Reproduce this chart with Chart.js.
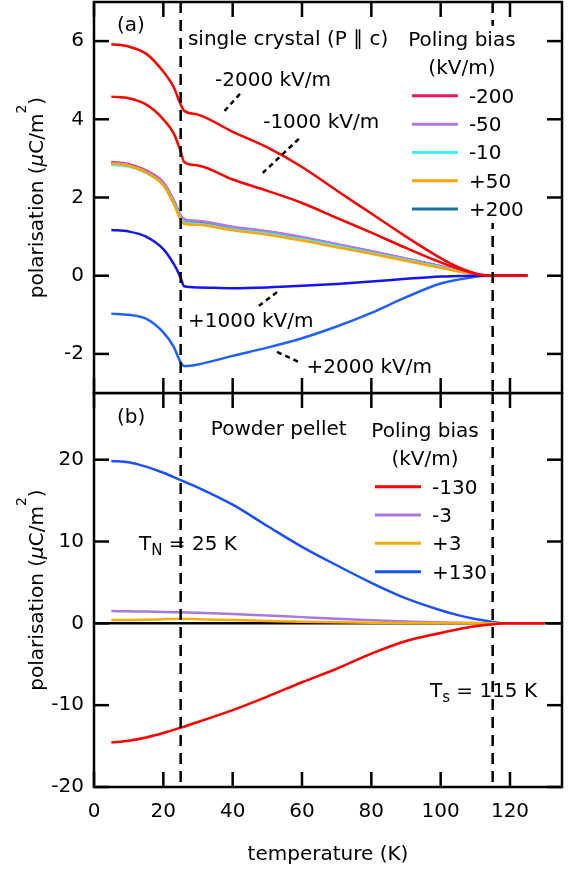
<!DOCTYPE html>
<html>
<head>
<meta charset="utf-8">
<title>Polarisation vs temperature</title>
<script src="https://cdn.jsdelivr.net/npm/chart.js@4.4.1/dist/chart.umd.min.js"></script>
<style>
  html, body { margin: 0; padding: 0; background: #fff; }
  #figure { position: relative; width: 572px; height: 870px; }
  #figure canvas { position: absolute; left: 0; }
  #panelA { top: 0; }
  #panelB { top: 392px; }
</style>
</head>
<body>
<div id="figure">
  <canvas id="panelA" width="572" height="395"></canvas>
  <canvas id="panelB" width="572" height="478"></canvas>
</div>
<script>
// temperatures (K)
const tempsA = [5, 10, 15, 20, 23, 25, 26, 30, 40, 50, 60, 70, 80, 90, 100, 105, 110, 112, 115, 120, 125];
const tempsB = [5, 10, 15, 20, 25, 30, 40, 50, 60, 70, 80, 90, 100, 105, 110, 115, 118, 120, 125, 130];

// (a) single crystal, polarisation in uC/m^2 for each poling bias (kV/m)
const crystalM2000 = [5.92, 5.86, 5.68, 5.22, 4.82, 4.38, 4.22, 4.12, 3.68, 3.28, 2.78, 2.18, 1.59, 1.00, 0.45, 0.22, 0.06, 0.02, 0, 0, 0];
const crystalM1000 = [4.58, 4.54, 4.38, 4.00, 3.64, 3.18, 2.91, 2.82, 2.46, 2.17, 1.86, 1.48, 1.10, 0.71, 0.34, 0.18, 0.05, 0.02, 0, 0, 0];
const crystalM200 = [2.91, 2.85, 2.69, 2.38, 1.93, 1.54, 1.44, 1.39, 1.23, 1.13, 0.98, 0.80, 0.62, 0.43, 0.24, 0.13, 0.04, 0.01, 0, 0, 0];
const crystalM50 = [2.89, 2.83, 2.67, 2.36, 1.91, 1.52, 1.43, 1.40, 1.25, 1.14, 0.99, 0.81, 0.63, 0.44, 0.24, 0.13, 0.04, 0.01, 0, 0, 0];
const crystalM10 = [2.84, 2.79, 2.63, 2.32, 1.87, 1.47, 1.37, 1.33, 1.19, 1.08, 0.93, 0.76, 0.58, 0.40, 0.22, 0.12, 0.04, 0.01, 0, 0, 0];
const crystalP50 = [2.87, 2.81, 2.64, 2.31, 1.84, 1.43, 1.33, 1.30, 1.16, 1.05, 0.90, 0.73, 0.56, 0.38, 0.20, 0.11, 0.03, 0.01, 0, 0, 0];
const crystalP200 = [2.88, 2.82, 2.66, 2.35, 1.90, 1.50, 1.40, 1.36, 1.21, 1.11, 0.96, 0.79, 0.61, 0.42, 0.23, 0.12, 0.04, 0.01, 0, 0, 0];
const crystalP1000 = [1.17, 1.13, 1.00, 0.68, 0.30, -0.05, -0.27, -0.30, -0.32, -0.30, -0.26, -0.21, -0.15, -0.08, -0.02, -0.01, 0, 0, 0, 0, 0];
const crystalP2000 = [-0.97, -1.00, -1.10, -1.45, -1.82, -2.22, -2.31, -2.27, -2.05, -1.84, -1.60, -1.30, -0.95, -0.55, -0.20, -0.10, -0.03, -0.01, 0, 0, 0];

// (b) powder pellet
const pelletM130 = [-14.57, -14.35, -13.95, -13.4, -12.75, -12.05, -10.6, -8.95, -7.2, -5.55, -3.7, -2.15, -1.17, -0.72, -0.35, -0.1, 0, 0, 0, 0];
const pelletM3 = [1.5, 1.47, 1.44, 1.4, 1.35, 1.3, 1.15, 0.96, 0.76, 0.56, 0.39, 0.23, 0.11, 0.06, 0.03, 0.01, 0, 0, 0, 0];
const pelletP3 = [0.4, 0.42, 0.45, 0.5, 0.55, 0.5, 0.4, 0.3, 0.2, 0.13, 0.08, 0.05, 0.03, 0.02, 0.01, 0, 0, 0, 0, 0];
const pelletP130 = [19.85, 19.7, 19.15, 18.4, 17.5, 16.6, 14.5, 11.9, 9.35, 7.1, 4.95, 3.05, 1.6, 1.0, 0.52, 0.18, 0.02, 0, 0, 0];

// axes
const xTicks = [0, 20, 40, 60, 80, 100, 120];
const yTicksA = [-2, 0, 2, 4, 6];
const yTicksB = [-20, -10, 0, 10, 20];
const transitions = [25, 115]; // T_N and T_s

const FONT = '"DejaVu Sans", sans-serif';
const TICK = 15;

function line(label, temps, vals, color) {
  return {
    label,
    data: temps.map((t, i) => ({ x: t, y: vals[i] })),
    borderColor: color,
    backgroundColor: color,
    borderWidth: 2.5,
    pointRadius: 0,
    cubicInterpolationMode: 'monotone',
    fill: false
  };
}

const datasetsA = [
  line('-2000', tempsA, crystalM2000, '#ff0000'),
  line('-1000', tempsA, crystalM1000, '#ff0000'),
  line('+1000', tempsA, crystalP1000, '#1414f5'),
  line('+2000', tempsA, crystalP2000, '#2060ff'),
  line('+50', tempsA, crystalP50, '#ffa500'),
  line('-10', tempsA, crystalM10, '#3ff2ee'),
  line('-50', tempsA, crystalM50, '#a87de4'),
  line('-200', tempsA, crystalM200, '#ee1462'),
  line('+200', tempsA, crystalP200, '#1c6c9c')
];

const datasetsB = [
  line('-130', tempsB, pelletM130, '#ff0000'),
  line('+3', tempsB, pelletP3, '#ffaa00'),
  line('-3', tempsB, pelletM3, '#a878e0'),
  line('+130', tempsB, pelletP130, '#1a50ff')
];

const yTitle = [
  { s: 'polarisation (' }, { s: '\u03bc', italic: true }, { s: 'C/m' }, { s: '2', sup: true }, { s: ')' }
];

// notes: x in K, y in data units (text baseline)
const decorations = {
  panelA: {
    yTicks: yTicksA,
    zeroLine: false,
    notes: [
      { x: 6.6, y: 6.26, segs: '(a)' },
      { x: 27.1, y: 5.9, segs: 'single crystal (P \u2225 c)' },
      { x: 34.9, y: 4.85, segs: '-2000 kV/m' },
      { x: 48.8, y: 3.78, segs: '-1000 kV/m' },
      { x: 27.1, y: -1.31, segs: '+1000 kV/m' },
      { x: 61.3, y: -2.48, segs: '+2000 kV/m' }
    ],
    leaders: [
      [42.1, 4.65, 36.9, 4.14],
      [59.1, 3.5, 48.7, 2.63],
      [52.8, -0.42, 47.6, -0.77],
      [52.8, -1.95, 59.7, -2.23]
    ],
    legend: {
      x: 91.7, y: 4.6, opaque: true,
      items: [
        { label: '-200', color: '#ee1462' },
        { label: '-50', color: '#a87de4' },
        { label: '-10', color: '#3ff2ee' },
        { label: '+50', color: '#ffa500' },
        { label: '+200', color: '#1c6c9c' }
      ]
    }
  },
  panelB: {
    yTicks: yTicksB,
    zeroLine: true,
    notes: [
      { x: 6.6, y: 24.44, segs: '(b)' },
      { x: 33.7, y: 23.0, segs: 'Powder pellet' },
      { x: 13.0, y: 8.96, segs: [{ s: 'T' }, { s: 'N', sub: true }, { s: ' = 25 K' }] },
      { x: 96.9, y: -8.97, segs: [{ s: 'T' }, { s: 's', sub: true }, { s: ' = 115 K' }] }
    ],
    leaders: [],
    legend: {
      x: 81.05, y: 16.69, opaque: false,
      items: [
        { label: '-130', color: '#ff0000' },
        { label: '-3', color: '#a878e0' },
        { label: '+3', color: '#ffaa00' },
        { label: '+130', color: '#1a50ff' }
      ]
    }
  }
};

function segFont(seg) {
  const size = seg.sup ? 14 : seg.sub ? 15 : 20;
  return (seg.italic ? 'italic ' : '') + size + 'px ' + FONT;
}

function drawRich(ctx, segs, x, y, align) {
  if (typeof segs === 'string') segs = [{ s: segs }];
  ctx.textAlign = 'left';
  let w = 0;
  segs.forEach(sg => { ctx.font = segFont(sg); w += ctx.measureText(sg.s).width; });
  let cx = align === 'center' ? x - w / 2 : x;
  segs.forEach(sg => {
    ctx.font = segFont(sg);
    const dy = sg.sub ? 5 : sg.sup ? -17 : 0;
    ctx.fillText(sg.s, cx, y + dy);
    cx += ctx.measureText(sg.s).width;
  });
}

function seg(ctx, x1, y1, x2, y2) {
  ctx.beginPath();
  ctx.moveTo(x1, y1);
  ctx.lineTo(x2, y2);
  ctx.stroke();
}

const decorPlugin = {
  id: 'decor',
  beforeDatasetsDraw(chart) {
    const d = decorations[chart.canvas.id];
    if (!d.zeroLine) return;
    const { ctx, chartArea: a, scales: { y } } = chart;
    ctx.save();
    ctx.strokeStyle = '#000';
    ctx.lineWidth = 2.5;
    seg(ctx, a.left, y.getPixelForValue(0), a.right, y.getPixelForValue(0));
    ctx.restore();
  },
  afterDraw(chart) {
    const d = decorations[chart.canvas.id];
    const { ctx, chartArea: a, scales: { x, y } } = chart;
    const px = v => x.getPixelForValue(v);
    const py = v => y.getPixelForValue(v);
    ctx.save();
    ctx.strokeStyle = '#000';
    ctx.fillStyle = '#000';

    // T_N and T_s markers
    ctx.lineWidth = 2.5;
    ctx.setLineDash([11, 7]);
    transitions.forEach(t => seg(ctx, px(t), a.top, px(t), a.bottom));

    // dotted pointers to curves
    ctx.setLineDash([5, 4]);
    d.leaders.forEach(l => seg(ctx, px(l[0]), py(l[1]), px(l[2]), py(l[3])));
    ctx.setLineDash([]);

    // legend (panel a hides the T_s marker behind it)
    const L = d.legend;
    const lx = px(L.x), ly = py(L.y);
    if (L.opaque) {
      ctx.fillStyle = '#fff';
      ctx.fillRect(lx - 6, ly - 70, 122, (L.items.length - 1) * 28.3 + 84);
      ctx.fillStyle = '#000';
    }
    drawRich(ctx, 'Poling bias', lx + 50, ly - 49.5, 'center');
    drawRich(ctx, '(kV/m)', lx + 50, ly - 21.5, 'center');
    L.items.forEach((it, i) => {
      const yy = ly + i * 28.3;
      ctx.strokeStyle = it.color;
      ctx.lineWidth = 3;
      seg(ctx, lx, yy, lx + 46, yy);
      drawRich(ctx, it.label, lx + 57, yy + 7, 'left');
    });
    ctx.strokeStyle = '#000';
    ctx.lineWidth = 2.5;

    // frame and inward ticks on all sides
    ctx.strokeRect(a.left, a.top, a.right - a.left, a.bottom - a.top);
    xTicks.forEach(v => {
      seg(ctx, px(v), a.top, px(v), a.top + TICK);
      seg(ctx, px(v), a.bottom, px(v), a.bottom - TICK);
    });
    d.yTicks.forEach(v => {
      seg(ctx, a.left, py(v), a.left + TICK, py(v));
      seg(ctx, a.right, py(v), a.right - TICK, py(v));
    });

    // annotations
    ctx.textBaseline = 'alphabetic';
    d.notes.forEach(n => drawRich(ctx, n.segs, px(n.x), py(n.y), 'left'));

    // y axis title
    ctx.translate(43, (a.top + a.bottom) / 2);
    ctx.rotate(-Math.PI / 2);
    drawRich(ctx, yTitle, 0, 0, 'center');
    ctx.restore();
  }
};

function panelConfig(datasets, yMin, yMax, yTicks, showX) {
  return {
    type: 'line',
    data: { datasets },
    options: {
      responsive: false,
      animation: false,
      layout: { padding: { top: showX ? 1 : 2, right: 10, bottom: showX ? 0 : 2, left: 0 } },
      plugins: { legend: { display: false }, tooltip: { enabled: false } },
      scales: {
        x: {
          type: 'linear',
          min: 0,
          max: 135,
          display: showX,
          afterBuildTicks: s => { s.ticks = xTicks.map(value => ({ value })); },
          afterFit: s => { s.height = showX ? 83 : 0; s.paddingLeft = 0; s.paddingRight = 0; },
          grid: { display: false, drawTicks: false },
          border: { display: false },
          ticks: { color: '#000', font: { family: FONT, size: 20 }, padding: 13, maxRotation: 0, minRotation: 0, autoSkip: false },
          title: { display: true, text: 'temperature (K)', color: '#000', font: { family: FONT, size: 20 }, padding: { top: 0, bottom: 3 } }
        },
        y: {
          type: 'linear',
          min: yMin,
          max: yMax,
          afterBuildTicks: s => { s.ticks = yTicks.map(value => ({ value })); },
          afterFit: s => { s.width = 94; s.paddingTop = 0; s.paddingBottom = 0; },
          grid: { display: false, drawTicks: false },
          border: { display: false },
          ticks: { color: '#000', font: { family: FONT, size: 20 }, padding: 10 }
        }
      }
    },
    plugins: [decorPlugin]
  };
}

new Chart(document.getElementById('panelA'), panelConfig(datasetsA, -3, 7, yTicksA, false));
new Chart(document.getElementById('panelB'), panelConfig(datasetsB, -20, 28.15, yTicksB, true));
</script>
</body>
</html>
